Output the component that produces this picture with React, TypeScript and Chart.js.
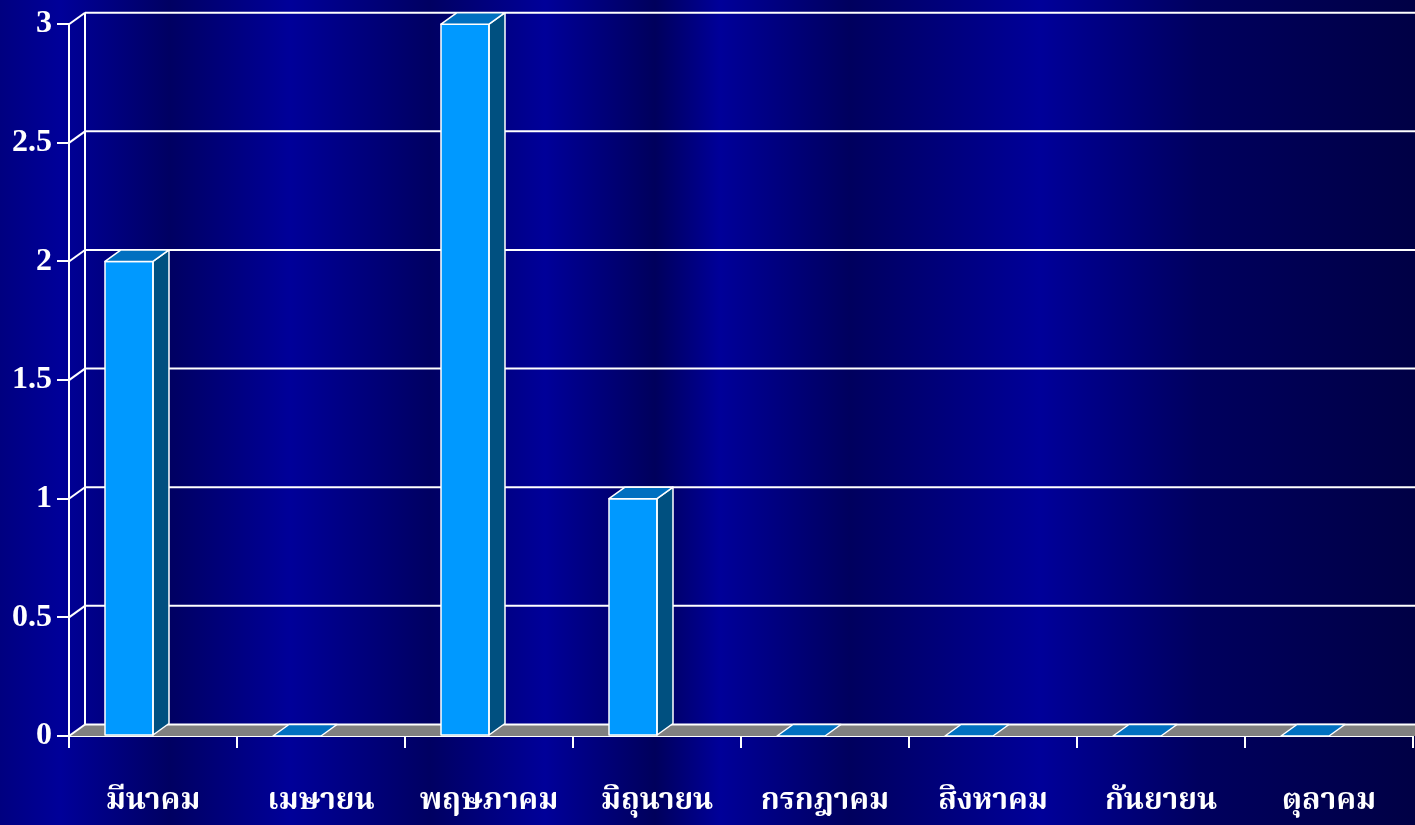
import React, { useEffect, useRef } from 'react';
import { Chart, registerables } from 'chart.js';

Chart.register(...registerables);

const categories = ['มีนาคม', 'เมษายน', 'พฤษภาคม', 'มิถุนายน', 'กรกฎาคม', 'สิงหาคม', 'กันยายน', 'ตุลาคม'];
const seriesValues = [2, 0, 3, 1, 0, 0, 0, 0];
// second (empty) series of the original clustered column chart
const emptySeries: (number | null)[] = [null, null, null, null, null, null, null, null];
const yMin = 0;
const yMax = 3;
const yStep = 0.5;

const W = 1415;
const H = 825;
const DX = 16;
const DY = -11.5;

const bgStops: [number, string][] = [
  [0, '#000080'],
  [60, '#000099'],
  [170, '#000062'],
  [290, '#000099'],
  [430, '#000062'],
  [545, '#000099'],
  [655, '#00005c'],
  [720, '#000099'],
  [850, '#00005e'],
  [1040, '#000099'],
  [1200, '#00005e'],
  [1415, '#000045'],
];

const threeD = {
  id: 'threeD',
  beforeDraw(chart: any) {
    const ctx = chart.ctx;
    const g = ctx.createLinearGradient(0, 0, W, 0);
    bgStops.forEach(([x, c]) => g.addColorStop(x / W, c));
    ctx.save();
    ctx.fillStyle = g;
    ctx.fillRect(0, 0, W, H);
    ctx.restore();
  },
  beforeDatasetsDraw(chart: any) {
    const ctx = chart.ctx;
    const { left, right, top, bottom } = chart.chartArea;
    const ys = chart.scales.y;
    ctx.save();
    ctx.strokeStyle = '#ffffff';
    ctx.lineWidth = 2;
    // floor
    ctx.fillStyle = '#808080';
    ctx.beginPath();
    ctx.moveTo(left, bottom);
    ctx.lineTo(right + DX, bottom);
    ctx.lineTo(right + DX, bottom + DY);
    ctx.lineTo(left + DX, bottom + DY);
    ctx.closePath();
    ctx.fill();
    // back wall gridlines and side wall diagonals
    ys.ticks.forEach((t: any) => {
      const y = ys.getPixelForValue(t.value);
      ctx.beginPath();
      ctx.moveTo(left + DX, y + DY);
      ctx.lineTo(W + 20, y + DY);
      ctx.stroke();
      ctx.beginPath();
      ctx.moveTo(left, y);
      ctx.lineTo(left + DX, y + DY);
      ctx.stroke();
    });
    // back wall left edge
    ctx.beginPath();
    ctx.moveTo(left + DX, top + DY);
    ctx.lineTo(left + DX, bottom + DY);
    ctx.stroke();
    ctx.restore();
  },
  afterDatasetsDraw(chart: any) {
    const ctx = chart.ctx;
    const meta = chart.getDatasetMeta(0);
    ctx.save();
    ctx.strokeStyle = '#ffffff';
    ctx.lineWidth = 1.5;
    ctx.lineJoin = 'round';
    meta.data.forEach((bar: any) => {
      const { x, y, base, width } = bar.getProps(['x', 'y', 'base', 'width'], true);
      const L = x - width / 2;
      const R = x + width / 2;
      const T = Math.min(y, base);
      const B = Math.max(y, base);
      if (B - T > 0.5) {
        // side face
        ctx.fillStyle = '#005080';
        ctx.beginPath();
        ctx.moveTo(R, T);
        ctx.lineTo(R + DX, T + DY);
        ctx.lineTo(R + DX, B + DY);
        ctx.lineTo(R, B);
        ctx.closePath();
        ctx.fill();
        ctx.stroke();
        // front outline
        ctx.strokeRect(L, T, R - L, B - T);
      }
      // top face
      ctx.fillStyle = '#0070c0';
      ctx.beginPath();
      ctx.moveTo(L, T);
      ctx.lineTo(L + DX, T + DY);
      ctx.lineTo(R + DX, T + DY);
      ctx.lineTo(R, T);
      ctx.closePath();
      ctx.fill();
      ctx.stroke();
    });
    ctx.restore();
  },
};

export default function App() {
  const ref = useRef<HTMLCanvasElement | null>(null);
  useEffect(() => {
    if (!ref.current) return;
    const chart = new Chart(ref.current, {
      type: 'bar',
      data: {
        labels: categories,
        datasets: [
          {
            label: 'Series 1',
            data: seriesValues,
            backgroundColor: '#0099ff',
            borderWidth: 0,
            categoryPercentage: 96 / 168,
            barPercentage: 1,
          },
          {
            label: 'Series 2',
            data: emptySeries,
            backgroundColor: '#0099ff',
            borderWidth: 0,
            categoryPercentage: 96 / 168,
            barPercentage: 1,
          },
        ],
      },
      options: {
        responsive: false,
        animation: false,
        layout: { padding: { top: 23, right: 2, left: 0, bottom: 0 } },
        plugins: { legend: { display: false }, tooltip: { enabled: false } },
        scales: {
          x: {
            offset: true,
            grid: {
              offset: true,
              drawOnChartArea: false,
              drawTicks: true,
              tickLength: 12,
              color: '#ffffff',
              lineWidth: 2,
            },
            border: { display: true, color: '#ffffff', width: 2 },
            ticks: {
              color: '#ffffff',
              padding: 38,
              maxRotation: 0,
              autoSkip: false,
              font: { family: "'Laksaman', 'Norasi', 'Kinnari', 'Noto Serif Thai', 'Noto Sans Thai', sans-serif", size: 30, weight: 'bold' },
            },
            afterFit(scale: any) {
              scale.height = 89;
            },
          },
          y: {
            min: yMin,
            max: yMax,
            ticks: {
              stepSize: yStep,
              color: '#ffffff',
              padding: 5,
              callback: (v: any) => String(Number(v)),
              font: { family: "'Liberation Serif', 'Times New Roman', serif", size: 32, weight: 'bold' },
            },
            grid: {
              drawOnChartArea: false,
              drawTicks: true,
              tickLength: 12,
              color: '#ffffff',
              lineWidth: 2,
            },
            border: { display: true, color: '#ffffff', width: 2 },
            afterFit(scale: any) {
              scale.width = 69;
            },
          },
        },
      },
      plugins: [threeD],
    });
    return () => chart.destroy();
  }, []);
  return (
    <div style={{ position: 'fixed', left: 0, top: 0, width: W, height: H }}>
      <canvas ref={ref} width={W} height={H} style={{ display: 'block', width: W, height: H }} />
    </div>
  );
}
